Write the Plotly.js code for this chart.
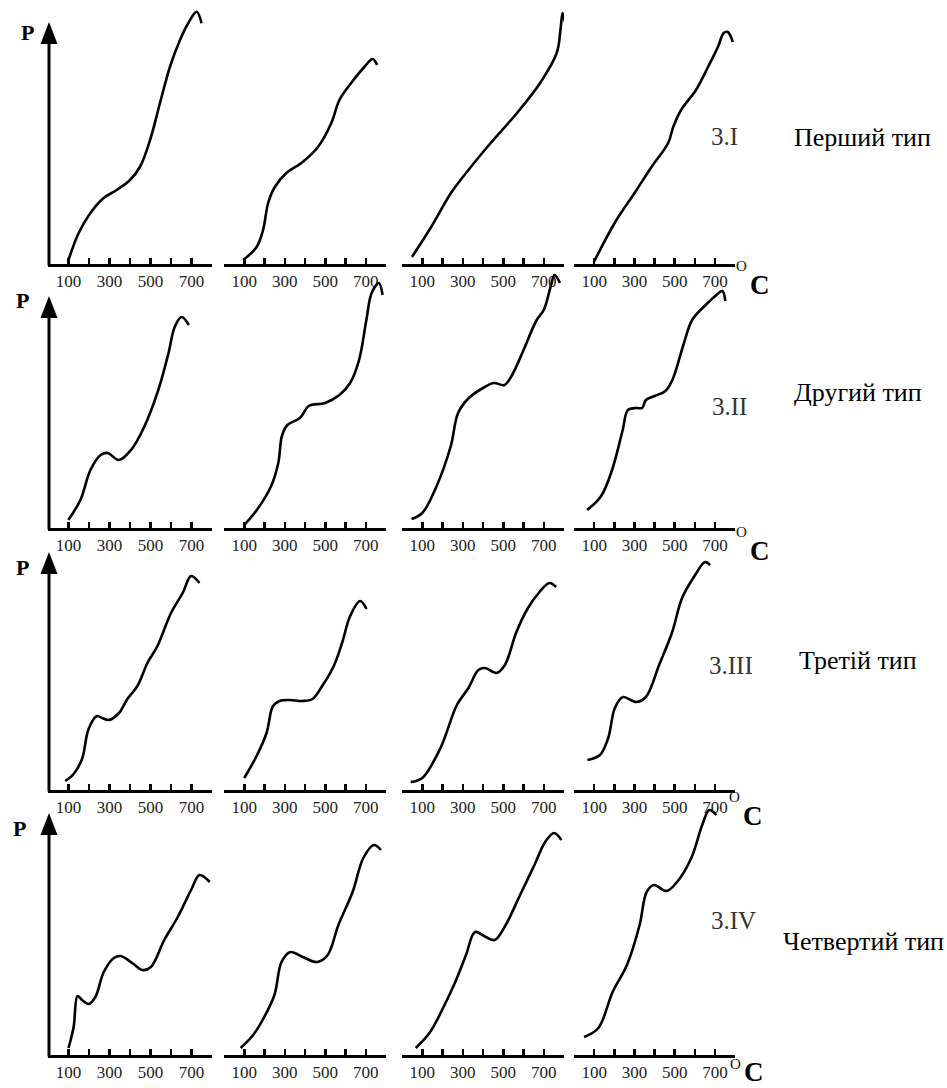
<!DOCTYPE html>
<html><head><meta charset="utf-8">
<script src="https://cdn.plot.ly/plotly-3.0.1.min.js"></script>
<style>html,body{margin:0;padding:0;background:#fff}</style>
</head><body><div id="chart" style="width:947px;height:1088px"></div>
<script>
// ---- tick labels / text ----
const tickVals = [100,200,300,400,500,600,700,800];
const tickText = ['100','','300','','500','','700',''];
const rowLabels = ['3.I','3.II','3.III','3.IV'];
const typeLabels = ['Перший тип','Другий тип','Третій тип','Четвертий тип'];
const yLabel = 'P';
const unitSup = 'O';
const unitMain = 'C';

// ---- data: temperature (°C) and relative P, per row / panel ----
const temp_1_1 = [100,149,206,270,335,400,449,498,546,595,644,684,725,749];
const pres_1_1 = [1.6,12.3,20.3,26.3,29.6,33.6,38.9,49.6,64.3,78.9,89.6,96.3,100.9,96.3];
const temp_1_2 = [95,161,193,218,251,308,382,464,530,570,628,693,734,756];
const pres_1_2 = [1.6,6.8,13.6,24.4,30.8,36.4,40.4,46.8,56.4,65.6,72.4,78.8,82,79.6];
const temp_1_3 = [49,144,242,340,438,568,682,764,783,793,804];
const pres_1_3 = [2.8,14.8,28.4,38.8,48.4,60.4,72.4,84.4,94,100.4,97];
const temp_1_4 = [99,202,301,385,468,493,532,606,666,715,744,764,789];
const pres_1_4 = [0.8,16.4,28.4,38.8,48.4,54.8,61.6,69.6,78.8,86.8,92.4,92.8,88.8];

const temp_2_1 = [99,158,207,257,291,346,405,469,538,588,618,652,687];
const pres_2_1 = [3.2,11.2,23.2,29.2,30,27.2,31.2,40.4,55.2,70,80.4,84.4,81.2];
const temp_2_2 = [100,162,233,268,286,313,375,419,499,570,623,667,703,729,765,783];
const pres_2_2 = [1.2,7.2,16.8,26,36.8,41.2,44,48.8,50,53.2,58,67.2,83.2,94,98,93.2];
const temp_2_3 = [47,100,171,241,277,330,400,453,506,541,594,665,700,735,753,780];
const pres_2_3 = [3.6,6,16.8,32.8,46,52,56,58,57.2,60.8,70,83.2,87.2,96.8,101.2,98];
const temp_2_4 = [65,135,189,242,268,312,339,357,401,454,489,542,587,649,702,737,752];
const pres_2_4 = [7.2,12.8,23.2,39.2,47.2,48,48,51.2,52.8,54.8,59.2,72.8,83.2,88.8,92.8,94.8,90.8];

const temp_3_1 = [84,125,166,198,239,264,297,346,387,436,485,534,600,657,698,739];
const pres_3_1 = [3.6,6.4,12.4,24.4,29.6,28.8,28,30.8,36.4,41.6,50.8,57.6,70.8,78.8,85.6,82.8];
const temp_3_2 = [100,161,210,242,275,323,388,437,485,542,583,623,672,704];
const pres_3_2 = [4.8,13.6,22.8,33.6,35.6,36,35.6,36.4,41.6,49.6,58.8,69.6,75.6,72.4];
const temp_3_3 = [43,100,190,271,328,377,410,467,508,565,622,679,728,761];
const pres_3_3 = [3.2,4.8,16.8,34,40.8,48,48.8,46.8,50,63.2,72.8,79.2,82.8,81.2];
const temp_3_4 = [67,129,170,203,243,308,357,423,488,537,602,651,676];
const pres_3_4 = [12,14,20.8,32.8,37.2,35.2,37.2,50,63.2,76.8,86,91.2,90];

const temp_4_1 = [100,125,144,166,198,231,272,321,354,411,461,502,567,633,698,739,789];
const pres_4_1 = [2.8,11.2,23.6,22,20.4,23.2,33.2,38.8,39.6,36.8,34,35.2,46,55.2,66,72,69.2];
const temp_4_2 = [82,144,196,249,284,328,389,460,512,565,635,688,740,775];
const pres_4_2 = [2.8,8,14.8,24,37.2,41.2,39.2,37.2,40,52,65.2,78.8,84,82];
const temp_4_3 = [68,139,210,263,316,361,414,458,512,583,654,707,751,787];
const pres_4_3 = [2.8,9.2,20,29.2,40,49.2,47.2,46,52,64,76,85.2,88.8,86];
const temp_4_4 = [50,121,192,263,326,361,397,459,512,583,637,672,707];
const pres_4_4 = [7.2,10.8,25.2,36,52,65.2,68,65.6,69.2,78.8,92,98,96];

const temps = [[temp_1_1,temp_1_2,temp_1_3,temp_1_4],[temp_2_1,temp_2_2,temp_2_3,temp_2_4],
               [temp_3_1,temp_3_2,temp_3_3,temp_3_4],[temp_4_1,temp_4_2,temp_4_3,temp_4_4]];
const press = [[pres_1_1,pres_1_2,pres_1_3,pres_1_4],[pres_2_1,pres_2_2,pres_2_3,pres_2_4],
               [pres_3_1,pres_3_2,pres_3_3,pres_3_4],[pres_4_1,pres_4_2,pres_4_3,pres_4_4]];

// ---- layout geometry (pixels) ----
const W = 947, H = 1088;
const colL = [48,224,402,574], colR = [212,386,564,735];
const rowAxis = [264,528,790,1055], rowTop = [0,268,530,795], rowTip = [22,296,552,813];
const yAxisX = 49;
const serif = 'Liberation Serif, serif';

const px = v => v / W, py = v => (H - v) / H;

const traces = [];
const layout = {
  width: W, height: H, margin: {l:0, r:0, t:0, b:0},
  paper_bgcolor: '#fff', plot_bgcolor: 'rgba(0,0,0,0)', showlegend: false,
  shapes: [], annotations: []
};

for (let r = 0; r < 4; r++) {
  for (let c = 0; c < 4; c++) {
    const idx = r*4 + c + 1;
    const sfx = idx === 1 ? '' : String(idx);
    traces.push({
      type: 'scatter', mode: 'lines', x: temps[r][c], y: press[r][c],
      xaxis: 'x' + sfx, yaxis: 'y' + sfx,
      line: {color: '#000', width: 2.6, shape: 'spline', smoothing: 1},
      hoverinfo: 'skip'
    });
    layout['xaxis' + sfx] = {
      domain: [px(colL[c]), px(colR[c])], range: [0, 800], anchor: 'y' + sfx,
      showline: true, linewidth: 3, linecolor: '#000',
      ticks: 'inside', ticklen: 6, tickwidth: 2.5, tickcolor: '#000',
      tickmode: 'array', tickvals: tickVals, ticktext: tickText, tickangle: 0,
      ticklabelstandoff: 0,
      tickfont: {family: serif, size: 17, color: '#222'},
      showgrid: false, zeroline: false, fixedrange: true
    };
    layout['yaxis' + sfx] = {
      domain: [py(rowAxis[r]), py(rowTop[r])], range: [0, (rowAxis[r] - rowTop[r]) * 0.4],
      anchor: 'x' + sfx, visible: false, fixedrange: true
    };
  }
  // Y axis with arrow (first column)
  layout.shapes.push({type: 'line', xref: 'paper', yref: 'paper',
    x0: px(yAxisX), x1: px(yAxisX), y0: py(rowAxis[r] + 1.5), y1: py(rowTip[r] + 16),
    line: {color: '#000', width: 3}});
  layout.shapes.push({type: 'path', xref: 'paper', yref: 'paper',
    path: `M ${px(yAxisX-8.5)} ${py(rowTip[r]+22)} L ${px(yAxisX)} ${py(rowTip[r])} L ${px(yAxisX+8.5)} ${py(rowTip[r]+22)} Z`,
    fillcolor: '#000', line: {width: 0}});
}

const ann = (text, x, y, size, color, opts = {}) => layout.annotations.push(Object.assign({
  text, x: px(x), y: py(y), xref: 'paper', yref: 'paper', showarrow: false,
  xanchor: 'center', yanchor: 'middle', font: {family: serif, size, color}, borderpad: 0
}, opts));

const pPos = [[27,32],[22,300],[22,567],[19,828]];
const supPos = [[748,266],[748,532],[741,797],[742,1064]];
const cPos = [[749,285,'middle'],[749,551,'middle'],[742,816,'middle'],[743,1088,'bottom']];
const rowLabelPos = [[710,136],[711,406],[708,665],[710,920]];
const typeLabelPos = [[862,137],[858,392],[858,660],[863,941]];

for (let r = 0; r < 4; r++) {
  ann('<b>' + yLabel + '</b>', pPos[r][0], pPos[r][1], 22, '#000');
  ann(unitSup, supPos[r][0], supPos[r][1], 15, '#111', {xanchor: 'right'});
  ann('<b>' + unitMain + '</b>', cPos[r][0], cPos[r][1], 27, '#000', {xanchor: 'left', yanchor: cPos[r][2]});
  ann(rowLabels[r], rowLabelPos[r][0], rowLabelPos[r][1], 25, '#333', {xanchor: 'left'});
  ann(typeLabels[r], typeLabelPos[r][0], typeLabelPos[r][1], 26, '#000');
}

Plotly.newPlot('chart', traces, layout, {displayModeBar: false, staticPlot: true});
</script>
</body></html>
